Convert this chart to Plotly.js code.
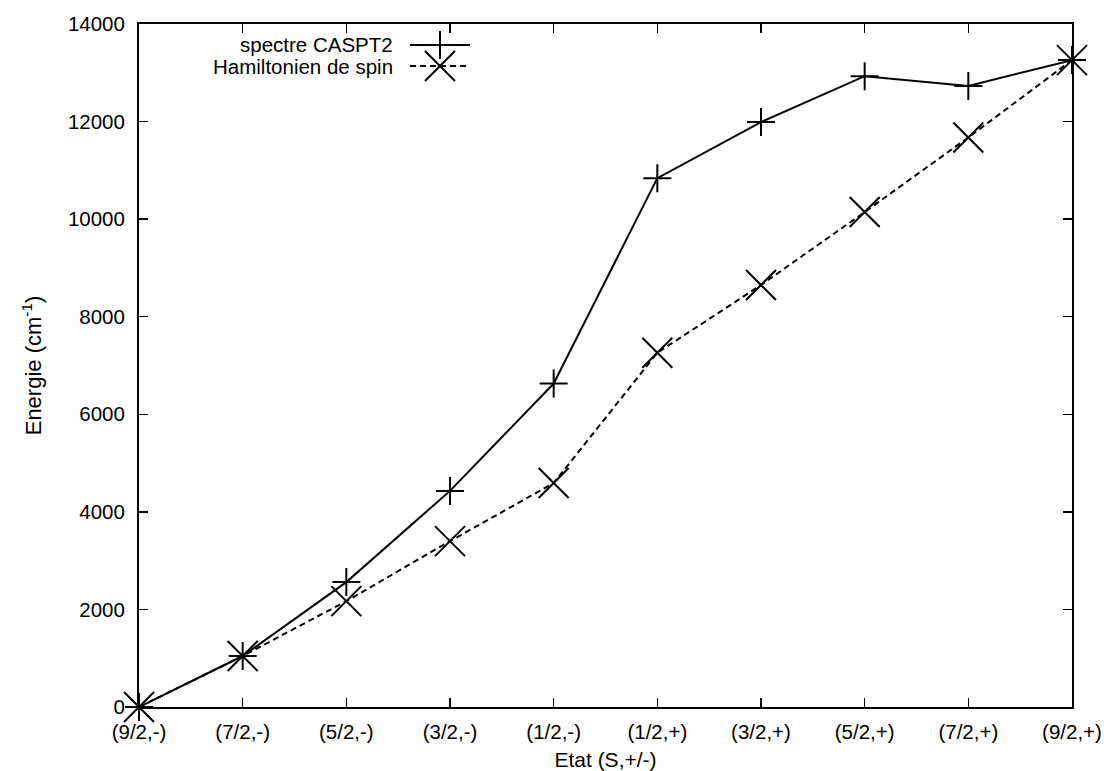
<!DOCTYPE html>
<html>
<head>
<meta charset="utf-8">
<script src="https://cdn.plot.ly/plotly-3.0.1.min.js"></script>
<style>html,body{margin:0;padding:0;background:#fff;}#chart{width:1104px;height:771px;}</style>
</head>
<body>
<div id="chart"></div>
<script>
const states = ["(9/2,-)", "(7/2,-)", "(5/2,-)", "(3/2,-)", "(1/2,-)", "(1/2,+)", "(3/2,+)", "(5/2,+)", "(7/2,+)", "(9/2,+)"];
const caspt2 = [0, 1045, 2560, 4430, 6630, 10840, 11990, 12930, 12730, 13260];
const spinHam = [0, 1045, 2170, 3400, 4590, 7260, 8650, 10145, 11675, 13260];
const seriesNames = ["spectre CASPT2", "Hamiltonien de spin"];
const yTicks = [0, 2000, 4000, 6000, 8000, 10000, 12000, 14000];

const FONT = "Liberation Sans, Arial, Helvetica, sans-serif";

const traces = [
  {
    x: states, y: caspt2, name: seriesNames[0], type: "scatter", mode: "lines+markers",
    line: {color: "#000", width: 2},
    marker: {symbol: "cross-thin", size: 20, color: "#000", line: {color: "#000", width: 2}},
    cliponaxis: false, showlegend: false
  },
  {
    x: states, y: spinHam, name: seriesNames[1], type: "scatter", mode: "lines+markers",
    line: {color: "#000", width: 2, dash: "6px,4px"},
    marker: {symbol: "x-thin", size: 30, color: "#000", line: {color: "#000", width: 2}},
    cliponaxis: false, showlegend: false
  }
];

// legend drawn as annotations/shapes in paper coordinates (text left of sample, as in gnuplot)
const W = 933, H = 683;
const px = v => v / W, py = v => v / H;
const lx0 = 0.2905, lx1 = 0.3548, lxc = 0.3226;
const ly = [0.9693, 0.9385];
const shapes = [
  {type: "line", xref: "paper", yref: "paper", x0: lx0, x1: lx1, y0: ly[0], y1: ly[0], line: {color: "#000", width: 2}},
  {type: "line", xref: "paper", yref: "paper", x0: lxc - px(14), x1: lxc + px(14), y0: ly[0], y1: ly[0], line: {color: "#000", width: 2}},
  {type: "line", xref: "paper", yref: "paper", x0: lxc, x1: lxc, y0: ly[0] - py(14), y1: ly[0] + py(14), line: {color: "#000", width: 2}},
  {type: "line", xref: "paper", yref: "paper", x0: lx0, x1: lx1, y0: ly[1], y1: ly[1], line: {color: "#000", width: 2, dash: "6px,4px"}},
  {type: "line", xref: "paper", yref: "paper", x0: lxc - px(15), x1: lxc + px(15), y0: ly[1] - py(15), y1: ly[1] + py(15), line: {color: "#000", width: 2}},
  {type: "line", xref: "paper", yref: "paper", x0: lxc - px(15), x1: lxc + px(15), y0: ly[1] + py(15), y1: ly[1] - py(15), line: {color: "#000", width: 2}}
];
const annotations = seriesNames.map((n, i) => ({
  text: n, xref: "paper", yref: "paper", x: 0.2744, y: ly[i], xanchor: "right", yanchor: "middle",
  showarrow: false, font: {family: FONT, size: 20.5, color: "#000"}
}));

const layout = {
  width: 1104, height: 771,
  margin: {l: 139, r: 32, t: 24, b: 64},
  paper_bgcolor: "#fff", plot_bgcolor: "#fff",
  font: {family: FONT, size: 20.5, color: "#000"},
  showlegend: false,
  xaxis: {
    type: "category", categoryorder: "array", categoryarray: states,
    range: [0, 9], showgrid: false, zeroline: false,
    showline: true, linecolor: "#000", linewidth: 2, mirror: "ticks",
    ticks: "inside", ticklen: 9, tickwidth: 1.5, tickcolor: "#000",
    ticklabelstandoff: 5,
    title: {text: "Etat (S,+/-)", standoff: 12, font: {family: FONT, size: 21}}
  },
  yaxis: {
    range: [0, 14000], tickvals: yTicks, ticktext: yTicks.map(String),
    showgrid: false, zeroline: false,
    showline: true, linecolor: "#000", linewidth: 2, mirror: "ticks",
    ticks: "inside", ticklen: 9, tickwidth: 1.5, tickcolor: "#000",
    ticklabelstandoff: 8,
    title: {text: "Energie (cm<sup>-1</sup>)", standoff: 20, font: {family: FONT, size: 22}}
  },
  shapes: shapes,
  annotations: annotations
};

Plotly.newPlot("chart", traces, layout, {displayModeBar: false, staticPlot: true});
</script>
</body>
</html>
